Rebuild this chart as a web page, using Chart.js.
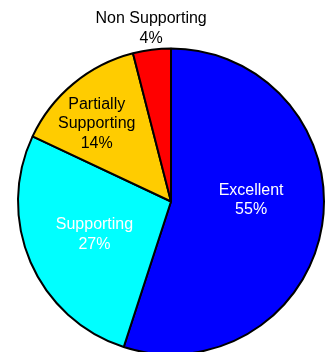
<!DOCTYPE html>
<html>
<head>
<meta charset="utf-8">
<script src="https://cdn.jsdelivr.net/npm/chart.js@4"></script>
<style>
  html, body { margin: 0; padding: 0; background: #fff; }
  #wrap { width: 330px; height: 352px; }
</style>
</head>
<body>
<div id="wrap"><canvas id="pieChart" width="330" height="352"></canvas></div>
<script>
// data for the pie
const categories = ['Excellent', 'Supporting', 'Partially Supporting', 'Non Supporting'];
const labelLines = [['Excellent'], ['Supporting'], ['Partially', 'Supporting'], ['Non Supporting']];
const percents = [55, 27, 14, 4];

const sliceColors = ['#0000ff', '#00ffff', '#ffcc00', '#ff0000'];
const textColors = ['#ffffff', '#ffffff', '#000000', '#000000'];

// where each label sits: fraction of the radius along the slice middle, plus a small nudge
const labelRadius = [0.53, 0.545, 0.70, 1.14];
const labelNudge = [[0, -14], [0, 0], [-6, 5], [2, 0]];

// plugin to draw the slice labels like excel does
const sliceLabels = {
  id: 'sliceLabels',
  afterDatasetsDraw(chart) {
    const ctx = chart.ctx;
    const meta = chart.getDatasetMeta(0);
    ctx.save();
    ctx.font = '16px "Liberation Sans", Arial, sans-serif';
    ctx.textAlign = 'center';
    ctx.textBaseline = 'middle';
    meta.data.forEach((arc, i) => {
      const mid = (arc.startAngle + arc.endAngle) / 2;
      const r = arc.outerRadius * labelRadius[i];
      const x = arc.x + Math.cos(mid) * r + labelNudge[i][0];
      const y = arc.y + Math.sin(mid) * r + labelNudge[i][1];
      const lines = labelLines[i].concat([percents[i] + '%']);
      const lineH = 19.5;
      const top = y - (lines.length - 1) * lineH / 2;
      ctx.fillStyle = textColors[i];
      lines.forEach((t, j) => ctx.fillText(t, x, top + j * lineH));
    });
    ctx.restore();
  }
};

const ctx = document.getElementById('pieChart').getContext('2d');
new Chart(ctx, {
  type: 'pie',
  data: {
    labels: categories,
    datasets: [{
      data: percents,
      backgroundColor: sliceColors,
      borderColor: '#000000',
      borderWidth: 2
    }]
  },
  options: {
    responsive: false,
    animation: false,
    radius: 153,
    layout: { padding: { left: 12, right: 0, top: 51, bottom: 0 } },
    plugins: {
      legend: { display: false },
      tooltip: { enabled: false }
    }
  },
  plugins: [sliceLabels]
});
</script>
</body>
</html>
